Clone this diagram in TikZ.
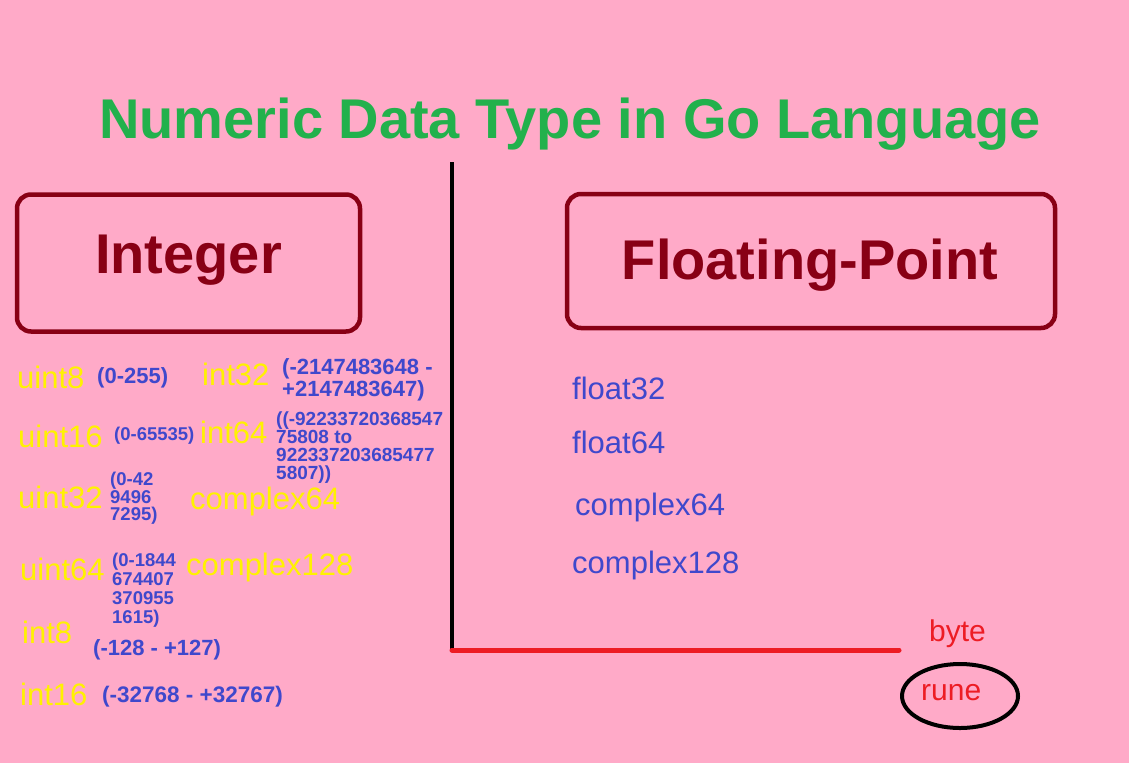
\documentclass[tikz,border=0pt]{standalone}
\usepackage{fontspec}
\setmainfont{Liberation Sans}
\definecolor{bgpink}{RGB}{255,170,200}
\definecolor{titlegreen}{RGB}{34,177,76}
\definecolor{darkred}{RGB}{136,0,21}
\definecolor{labyellow}{RGB}{255,242,0}
\definecolor{rangeblue}{RGB}{63,72,204}
\definecolor{paintred}{RGB}{237,28,36}
\begin{document}
\begin{tikzpicture}[x=1pt,y=-1pt,
  headbox/.style={draw=darkred, line width=4.5pt, rounded corners=14pt, inner sep=0pt},
  headtxt/.style={anchor=base, inner sep=0pt, text=darkred, font=\bfseries\fontsize{56}{56}\selectfont},
  lab/.style={anchor=base west, inner sep=0pt, text=labyellow, font=\fontsize{31}{31}\selectfont},
  rng/.style={inner sep=0pt, text=rangeblue, align=left},
  flt/.style={anchor=base west, inner sep=0pt, text=rangeblue, font=\fontsize{31}{31}\selectfont},
  redtxt/.style={anchor=base west, inner sep=0pt, text=paintred, font=\fontsize{30}{30}\selectfont}]
\fill[bgpink] (0,0) rectangle (1129,763);
\useasboundingbox (0,0) rectangle (1129,763);

% title
\node (title) [anchor=base, inner sep=0pt, text=titlegreen, font=\bfseries\fontsize{56}{56}\selectfont] at (570,138) {Numeric Data Type in Go Language};

% heading boxes
\node (intbox) [headbox, minimum width=343pt, minimum height=137pt] at (188.5,263) {};
\node (inttxt) [headtxt] at (188.5,273) {Integer};
\node (fltbox) [headbox, minimum width=488pt, minimum height=134pt] at (811,261) {};
\node (flttxt) [headtxt] at (810,279) {Floating-Point};

% axes lines
\coordinate (vtop) at (452,162);
\coordinate (corner) at (452,650);
\coordinate (hend) at (899,650);
\draw[line width=4pt] (vtop) -- (corner);
\draw[paintred, line width=5pt, line cap=round] (corner) -- (hend);

% integer labels
\node (uint8) [lab] at (17,388) {uint8};
\node (int32) [lab] at (202,385) {int32};
\node (uint16) [lab] at (18,447) {uint16};
\node (int64) [lab] at (200,443) {int64};
\node (uint32) [lab] at (18,508) {uint32};
\node (cplx64y) [lab] at (190,509) {complex64};
\node (uint64) [lab] at (20,580) {uint64};
\node (cplx128y) [lab] at (186,575) {complex128};
\node (int8) [lab] at (22,643) {int8};
\node (int16) [lab] at (20,705) {int16};

% ranges
\node (r8) [rng, anchor=base west, font=\bfseries\fontsize{22}{22}\selectfont] at (97,383) {(0-255)};
\node (r16) [rng, anchor=base west, font=\bfseries\fontsize{18.5}{18.5}\selectfont] at (114,440) {(0-65535)};
\node (ri8) [rng, anchor=base west, font=\bfseries\fontsize{22}{22}\selectfont] at (93,655) {(-128 - +127)};
\node (ri16) [rng, anchor=base west, font=\bfseries\fontsize{22.5}{22.5}\selectfont] at (102,702) {(-32768 - +32767)};
\node (ri32) [rng, anchor=north west, font=\bfseries\fontsize{22}{22}\selectfont] at (282,358) {(-2147483648 -\\+2147483647)};
\node (ri64) [rng, anchor=north west, font=\bfseries\fontsize{19}{17.8}\selectfont] at (276,412) {((-92233720368547\\75808 to\\922337203685477\\5807))};
\node (r32) [rng, anchor=north west, font=\bfseries\fontsize{18.5}{16.7}\selectfont] at (110,472) {(0-42\\9496\\7295)};
\node (r64) [rng, anchor=north west, font=\bfseries\fontsize{18.5}{19}\selectfont] at (112,553) {(0-1844\\674407\\370955\\1615)};

% floating point labels
\node (f32) [flt] at (572,399) {float32};
\node (f64) [flt] at (572,453) {float64};
\node (c64) [flt] at (575,515) {complex64};
\node (c128) [flt] at (572,573) {complex128};

% byte / rune
\node (byte) [redtxt] at (929,641) {byte};
\node (rune) [redtxt] at (921,700) {rune};
\draw[line width=4pt] (960,696) ellipse [x radius=58, y radius=32];
\end{tikzpicture}
\end{document}
